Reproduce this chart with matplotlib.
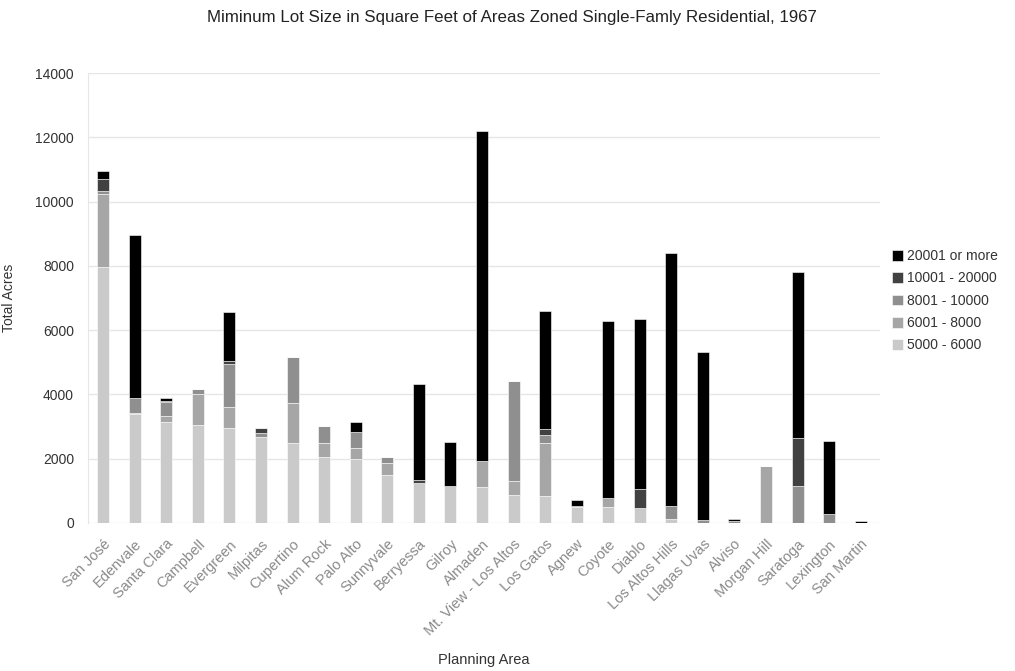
import matplotlib
matplotlib.use("Agg")
import matplotlib.pyplot as plt
import numpy as np

plt.rcParams['font.family'] = ['Liberation Sans', 'DejaVu Sans']

# Planning areas and acreage per minimum lot size band
areas = ["San José", "Edenvale", "Santa Clara", "Campbell", "Evergreen", "Milpitas",
         "Cupertino", "Alum Rock", "Palo Alto", "Sunnyvale", "Berryessa", "Gilroy",
         "Almaden", "Mt. View - Los Altos", "Los Gatos", "Agnew", "Coyote", "Diablo",
         "Los Altos Hills", "Llagas Uvas", "Alviso", "Morgan Hill", "Saratoga",
         "Lexington", "San Martin"]

lot_5000_6000 = [7950, 3400, 3150, 3050, 2965, 2685, 2500, 2065, 1990, 1495, 1240, 1150,
                 1110, 870, 850, 500, 490, 455, 130, 0, 0, 0, 0, 0, 0]
lot_6001_8000 = [2280, 20, 190, 950, 655, 0, 1225, 415, 355, 380, 0, 0,
                 830, 435, 1650, 40, 280, 0, 0, 0, 0, 1760, 0, 0, 0]
lot_8001_10000 = [100, 460, 435, 180, 1340, 125, 1450, 540, 495, 180, 0, 0,
                  0, 3115, 230, 0, 0, 0, 400, 90, 50, 25, 1160, 280, 0]
lot_10001_20000 = [370, 20, 20, 0, 80, 155, 0, 0, 0, 0, 110, 0,
                   0, 0, 185, 0, 0, 605, 0, 0, 0, 0, 1475, 0, 0]
lot_20001_up = [260, 5050, 95, 0, 1515, 0, 0, 0, 290, 0, 2960, 1380,
                10265, 0, 3690, 175, 5525, 5275, 7880, 5240, 60, 0, 5165, 2280, 70]

series = [
    ("5000 - 6000", lot_5000_6000, "#cacaca"),
    ("6001 - 8000", lot_6001_8000, "#a6a6a6"),
    ("8001 - 10000", lot_8001_10000, "#8f8f8f"),
    ("10001 - 20000", lot_10001_20000, "#414141"),
    ("20001 or more", lot_20001_up, "#000000"),
]

fig = plt.figure(figsize=(10.15, 6.71), dpi=100)
ax = fig.add_axes([0.0867, 0.2206, 0.78, 0.6705])

x = np.arange(len(areas))
bottom = np.zeros(len(areas))
handles = []
for label, vals, color in series:
    b = ax.bar(x, vals, width=0.38, bottom=bottom, color=color, label=label,
               edgecolor="white", linewidth=0.4, zorder=3)
    handles.append(b)
    bottom += np.array(vals)

ax.set_ylim(0, 14000)
ax.set_xlim(-0.48, 24.6)
ax.set_yticks(range(0, 14001, 2000))
ax.yaxis.grid(True, color="#e6e6e6", linewidth=1.0, zorder=0)
for s in ax.spines.values():
    s.set_visible(False)
ax.spines["left"].set_visible(True)
ax.spines["left"].set_color("#e6e6e6")
ax.tick_params(axis="both", length=0)
ax.tick_params(axis="y", labelsize=10, labelcolor="#333333", pad=10)
ax.set_xticks(x)
ax.set_xticklabels(areas, rotation=45, ha="right", rotation_mode="anchor",
                   fontsize=10.5, color="#8a8a8a")
ax.tick_params(axis="x", pad=10)

ax.set_ylabel("Total Acres", fontsize=10, color="#333333", labelpad=14)
ax.set_xlabel("Planning Area", fontsize=10.5, color="#333333")
ax.xaxis.set_label_coords(0.5, -0.29)
ax.set_title("Miminum Lot Size in Square Feet of Areas Zoned Single-Famly Residential, 1967",
             fontsize=12.2, color="#222222", pad=37, x=0.535)

leg = fig.legend(handles[::-1], [s[0] for s in series][::-1], loc="upper left",
                 bbox_to_anchor=(0.873, 0.637), frameon=False, fontsize=10,
                 handlelength=0.8, handleheight=0.8, handletextpad=0.3,
                 labelspacing=0.6, borderaxespad=0)
for t in leg.get_texts():
    t.set_color("#333333")

fig.savefig("out.png", dpi=100)
